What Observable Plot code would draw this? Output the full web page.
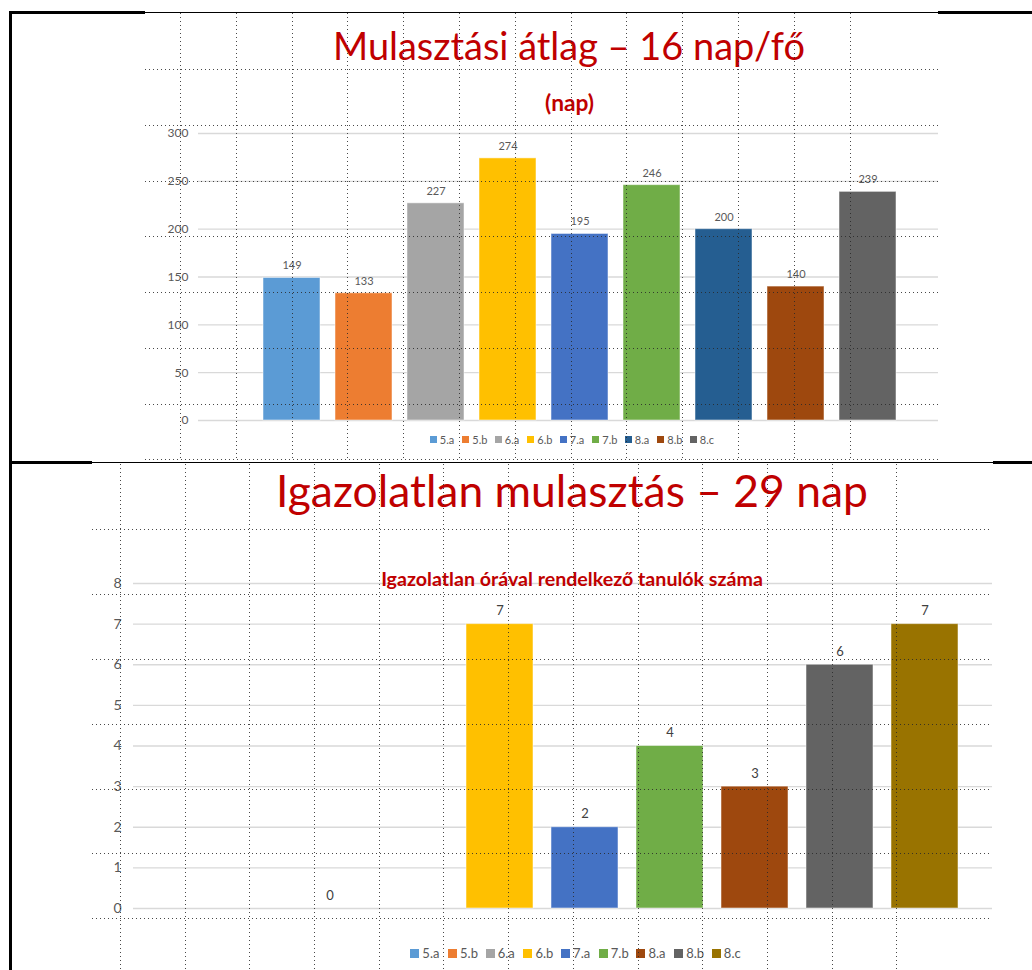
<!DOCTYPE html>
<html>
<head>
<meta charset="utf-8">
<script src="https://cdn.jsdelivr.net/npm/d3@7"></script>
<script src="https://cdn.jsdelivr.net/npm/@observablehq/plot@0.6"></script>
<style>
  html, body { margin: 0; padding: 0; background: #fff; }
  #page { position: relative; width: 1032px; height: 970px; overflow: hidden; font-family: Lato, "Open Sans", sans-serif; }
  .title { position: absolute; white-space: nowrap; color: #C00000; line-height: 1; }
  .legend { position: absolute; display: flex; align-items: center; color: #595959; white-space: nowrap; line-height: 1; }
  .legend .item { display: flex; align-items: center; }
  .legend .sw { display: inline-block; }
  .vdots { position: absolute; pointer-events: none; z-index: 5;
    -webkit-mask-image: repeating-linear-gradient(to bottom, #000 0 1px, transparent 1px 4px);
    mask-image: repeating-linear-gradient(to bottom, #000 0 1px, transparent 1px 4px); }
  .hdots { position: absolute; pointer-events: none; z-index: 5;
    -webkit-mask-image: repeating-linear-gradient(to right, #000 0 1px, transparent 1px 4px);
    mask-image: repeating-linear-gradient(to right, #000 0 1px, transparent 1px 4px); }
  .border { position: absolute; background: #000; z-index: 6; }
</style>
</head>
<body>
<div id="page"></div>
<script>
// ---- data ----
const classes = ["5.a", "5.b", "6.a", "6.b", "7.a", "7.b", "8.a", "8.b", "8.c"];
const absenceDays = [149, 133, 227, 274, 195, 246, 200, 140, 239];
const colorsChart1 = ["#5B9BD5", "#ED7D31", "#A5A5A5", "#FFC000", "#4472C4", "#70AD47", "#255E91", "#9E480E", "#636363"];
const unexcusedStudents = [null, 0, null, 7, 2, 4, 3, 6, 7];
const colorsChart2 = ["#5B9BD5", "#ED7D31", "#A5A5A5", "#FFC000", "#4472C4", "#70AD47", "#9E480E", "#636363", "#997300"];
const ticksChart1 = [0, 50, 100, 150, 200, 250, 300];
const ticksChart2 = [0, 1, 2, 3, 4, 5, 6, 7, 8];
const title1 = "Mulasztási átlag – 16 nap/fő";
const subtitle1 = "(nap)";
const title2 = "Igazolatlan mulasztás – 29 nap";
const subtitle2 = "Igazolatlan órával rendelkező tanulók száma";

const page = document.getElementById("page");

const data1 = classes.map((c, i) => ({cls: c, v: absenceDays[i]}));
const data2 = classes.map((c, i) => ({cls: c, v: unexcusedStudents[i]}));

// ---- chart 1 ----
const chart1 = Plot.plot({
  width: 1032, height: 315,
  marginTop: 18, marginBottom: 10, marginLeft: 198, marginRight: 94,
  style: {fontFamily: "Lato, sans-serif", background: "transparent", overflow: "visible"},
  x: {domain: classes, paddingInner: 0.21, paddingOuter: 0, insetLeft: 64, insetRight: 42, axis: null},
  y: {domain: [0, 300], axis: null},
  color: {domain: classes, range: colorsChart1},
  marks: [
    Plot.gridY(ticksChart1, {stroke: "#D9D9D9", strokeOpacity: 1, strokeWidth: 1.3}),
    Plot.barY(data1, {x: "cls", y: "v", fill: "cls", stroke: "#fff", strokeOpacity: 0.5, strokeWidth: 1}),
    Plot.text(data1, {x: "cls", y: "v", text: d => String(d.v), dy: -12, fill: "#595959", fontSize: 11}),
    Plot.axisY(ticksChart1, {tickSize: 0, tickPadding: 10, fill: "#595959", fontSize: 12, label: null})
  ]
});
chart1.style.position = "absolute";
chart1.style.left = "0px";
chart1.style.top = "115px";
page.appendChild(chart1);

// ---- chart 2 ----
const chart2 = Plot.plot({
  width: 1032, height: 353,
  marginTop: 18, marginBottom: 10, marginLeft: 133, marginRight: 40,
  style: {fontFamily: "Lato, sans-serif", background: "transparent", overflow: "visible"},
  x: {domain: classes, paddingInner: 0.21, paddingOuter: 0, insetLeft: 78, insetRight: 33, axis: null},
  y: {domain: [0, 8], axis: null},
  color: {domain: classes, range: colorsChart2},
  marks: [
    Plot.gridY(ticksChart2, {stroke: "#D9D9D9", strokeOpacity: 1, strokeWidth: 1.3}),
    Plot.barY(data2.filter(d => d.v != null), {x: "cls", y: "v", fill: "cls", stroke: "#fff", strokeOpacity: 0.5, strokeWidth: 1}),
    Plot.text(data2.filter(d => d.v != null), {x: "cls", y: "v", text: d => String(d.v), dy: -13, fill: "#404040", fontSize: 13}),
    Plot.axisY(ticksChart2, {tickSize: 0, tickPadding: 12, fill: "#595959", fontSize: 14, label: null})
  ]
});
chart2.style.position = "absolute";
chart2.style.left = "0px";
chart2.style.top = "565px";
page.appendChild(chart2);

// ---- titles (fit to measured width) ----
function addTitle(text, cx, capCenter, targetWidth, bold) {
  const el = document.createElement("div");
  el.className = "title";
  el.textContent = text;
  el.style.fontWeight = bold ? "700" : "400";
  let fs = 40;
  el.style.fontSize = fs + "px";
  page.appendChild(el);
  const w = el.getBoundingClientRect().width;
  fs = fs * targetWidth / w;
  el.style.fontSize = fs + "px";
  const w2 = el.getBoundingClientRect().width;
  el.style.left = (cx - w2 / 2) + "px";
  el.style.top = (capCenter - 0.53 * fs) + "px";
}
addTitle(title1, 569, 47.5, 472, false);
addTitle(subtitle1, 569.5, 104, 49, true);
addTitle(title2, 572, 491.5, 592, false);
addTitle(subtitle2, 572, 579, 382, true);

// ---- legends ----
function addLegend(colors, cx, cy, sw, fontSize, itemWidth) {
  const lg = document.createElement("div");
  lg.className = "legend";
  lg.style.fontSize = fontSize + "px";
  classes.forEach((c, i) => {
    const it = document.createElement("div");
    it.className = "item";
    it.style.width = itemWidth + "px";
    const s = document.createElement("span");
    s.className = "sw";
    s.style.width = sw + "px";
    s.style.height = sw + "px";
    s.style.background = colors[i];
    s.style.marginRight = "3px";
    const t = document.createElement("span");
    t.textContent = c;
    it.appendChild(s); it.appendChild(t);
    lg.appendChild(it);
  });
  page.appendChild(lg);
  const r = lg.getBoundingClientRect();
  lg.style.left = (cx - (itemWidth * classes.length) / 2) + "px";
  lg.style.top = (cy - r.height / 2) + "px";
}
addLegend(colorsChart1, 576, 439, 7, 11, 32.5);
addLegend(colorsChart2, 580, 953, 9, 13, 37.7);

// ---- slide guide dots (decoration) ----
function dots(cls, left, top, width, height, dir, step) {
  const d = document.createElement("div");
  d.className = cls;
  d.style.left = left + "px"; d.style.top = top + "px";
  d.style.width = width + "px"; d.style.height = height + "px";
  d.style.background = `repeating-linear-gradient(${dir}, rgba(40,40,40,0.85) 0 1px, transparent 1px ${step}px)`;
  page.appendChild(d);
}
dots("vdots", 180, 13, 720, 448, "to right", 55.8);
dots("hdots", 145, 69, 794, 392, "to bottom", 55.75);
dots("vdots", 120, 464, 838, 506, "to right", 64.7);
dots("hdots", 92, 529, 899, 392, "to bottom", 64.9);

// ---- document borders ----
function border(l, t, w, h) {
  const b = document.createElement("div");
  b.className = "border";
  b.style.left = l + "px"; b.style.top = t + "px";
  b.style.width = w + "px"; b.style.height = h + "px";
  page.appendChild(b);
}
border(9, 11, 3, 959);
border(9, 11, 136, 3);
border(145, 12, 793, 1);
border(938, 11, 94, 3);
border(9, 461, 83, 3);
border(92, 462, 901, 1);
border(993, 461, 39, 3);
</script>
</body>
</html>
